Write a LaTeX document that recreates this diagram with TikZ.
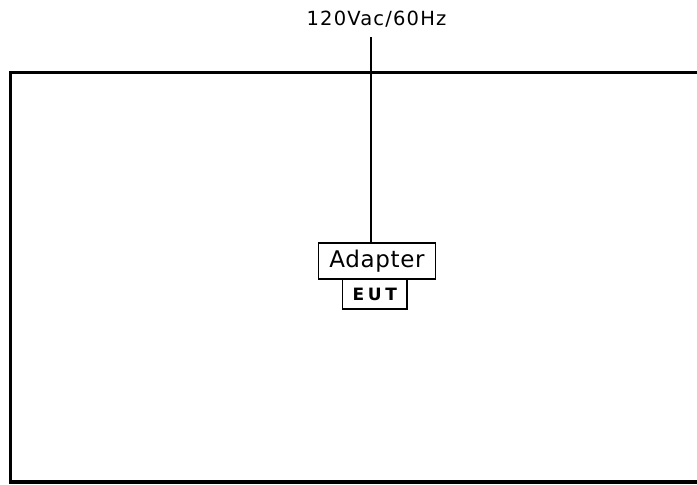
\documentclass[tikz,border=0pt]{standalone}
\usepackage{fontspec}
\setmainfont{DejaVu Sans}
\newfontfamily\srcfont[LetterSpace=6]{DejaVu Sans}
\newfontfamily\adfont[LetterSpace=3]{DejaVu Sans}
\newfontfamily\eutfont[LetterSpace=22]{DejaVu Sans Bold}
\begin{document}
\begin{tikzpicture}[x=1pt,y=-1pt,
  box/.style={draw=black,line width=1.8pt,fill=white,inner sep=0pt,outer sep=0pt},
  wire/.style={draw=black,line width=1.4pt},
  frame/.style={draw=black,line width=3.5pt,line join=miter}]
\useasboundingbox (0,0) rectangle (697,485);
% outer enclosure (open to the right)
\draw[frame] (700,72.5) -- (10.3,72.5) -- (10.3,482) -- (700,482);
% source label
\node[anchor=base,inner sep=0pt] (src) at (376.5,25) {\srcfont\fontsize{19.5}{22}\selectfont 120Vac/60Hz};
\coordinate (top) at (371,37);
% EUT and adapter
\node[box,minimum width=64.5pt,minimum height=30pt] (eut) at (374.75,294)
  {\eutfont\fontsize{17}{19}\selectfont EUT};
\node[box,minimum width=117pt,minimum height=36pt] (adapter) at (377,261)
  {\adfont\fontsize{23}{26}\selectfont Adapter};
\draw[wire] (top) -- (top |- adapter.north);
\end{tikzpicture}
\end{document}
